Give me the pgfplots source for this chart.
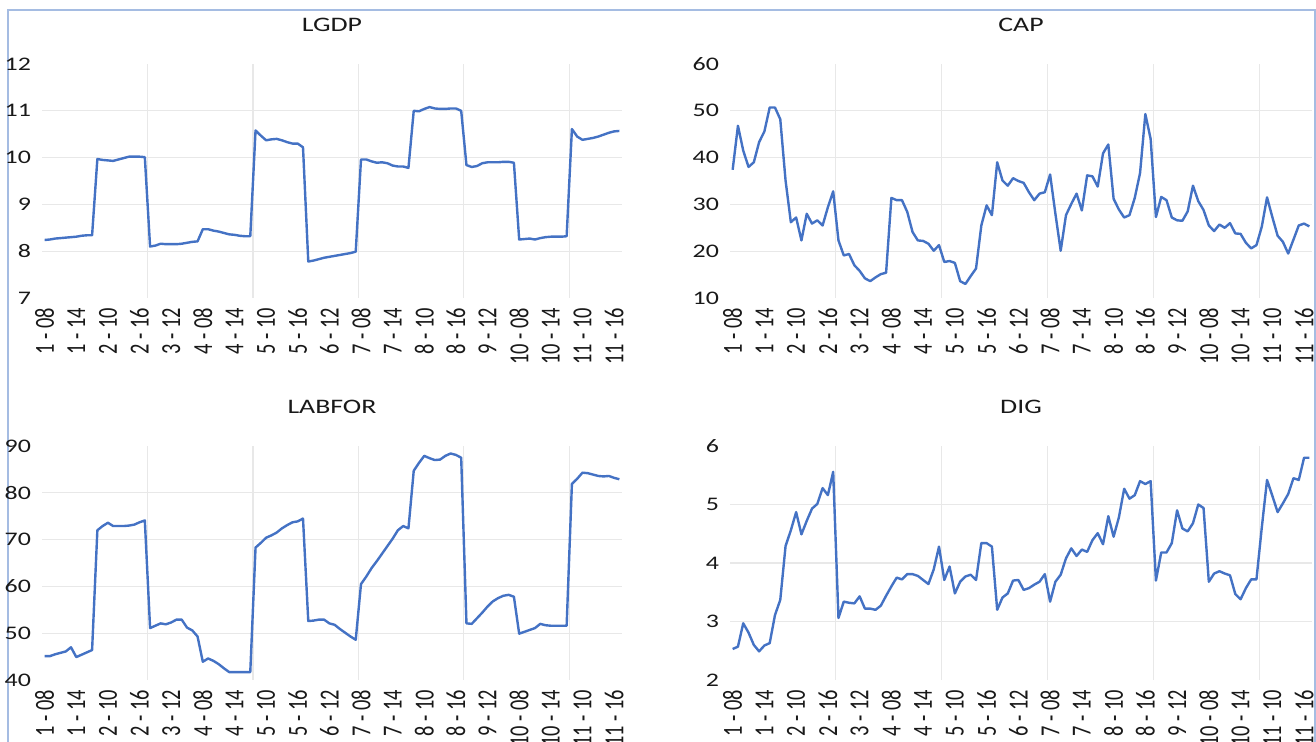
\documentclass[border=0pt]{standalone}
\usepackage{fontspec}
\setmainfont{Carlito}[FakeStretch=1.35]
\newfontfamily\rotfont{Carlito}
\usepackage{graphicx}
\usepackage{pgfplots}
\usepackage{pgfplotstable}
\pgfplotsset{compat=1.18}
\definecolor{exblue}{RGB}{68,114,196}
\definecolor{gridc}{RGB}{232,232,232}
\definecolor{framec}{RGB}{165,188,226}
\definecolor{txt}{RGB}{25,25,25}
\newcommand\R[1]{\scalebox{1}[1.35]{\rotfont #1}}

\pgfplotstableread{
i lgdp cap labfor dig
0 8.24 37.4 45.1 2.53
1 8.25 46.8 45.1 2.57
2 8.27 41.5 45.5 2.97
3 8.28 38.0 45.8 2.81
4 8.29 39.0 46.1 2.60
5 8.30 43.3 47.0 2.49
6 8.31 45.6 44.9 2.59
7 8.33 50.7 45.4 2.63
8 8.34 50.7 45.9 3.11
9 8.34 48.2 46.4 3.37
10 9.97 35.1 72.0 4.29
11 9.95 26.2 72.9 4.56
12 9.94 27.2 73.6 4.87
13 9.93 22.3 72.9 4.49
14 9.96 28.0 72.9 4.72
15 9.99 25.9 72.9 4.93
16 10.02 26.6 73.0 5.01
17 10.02 25.5 73.2 5.28
18 10.02 29.4 73.7 5.16
19 10.01 32.8 74.1 5.56
20 8.10 22.3 51.1 3.06
21 8.12 19.1 51.6 3.34
22 8.16 19.4 52.1 3.32
23 8.15 17.0 51.9 3.31
24 8.15 15.8 52.3 3.43
25 8.15 14.2 52.9 3.22
26 8.16 13.6 52.9 3.22
27 8.18 14.4 51.2 3.20
28 8.20 15.1 50.6 3.27
29 8.21 15.4 49.3 3.44
30 8.47 31.4 43.9 3.60
31 8.47 30.9 44.6 3.75
32 8.44 30.9 44.1 3.72
33 8.42 28.4 43.4 3.81
34 8.39 24.1 42.5 3.81
35 8.36 22.3 41.7 3.78
36 8.35 22.2 41.7 3.71
37 8.33 21.6 41.7 3.64
38 8.32 20.1 41.7 3.89
39 8.32 21.3 41.7 4.28
40 10.58 17.7 68.3 3.71
41 10.47 17.9 69.3 3.94
42 10.37 17.5 70.4 3.48
43 10.39 13.6 70.9 3.68
44 10.40 13.0 71.5 3.77
45 10.37 14.7 72.4 3.80
46 10.33 16.3 73.1 3.71
47 10.30 25.5 73.7 4.34
48 10.30 29.8 73.9 4.34
49 10.22 27.7 74.5 4.28
50 7.78 39.0 52.6 3.20
51 7.80 35.1 52.7 3.41
52 7.83 34.0 52.9 3.48
53 7.86 35.6 52.9 3.70
54 7.88 35.0 52.1 3.71
55 7.90 34.6 51.8 3.54
56 7.92 32.6 50.9 3.57
57 7.94 30.9 50.1 3.63
58 7.96 32.3 49.3 3.68
59 7.99 32.6 48.6 3.81
60 9.96 36.4 60.5 3.34
61 9.96 28.0 62.1 3.68
62 9.92 20.1 63.9 3.80
63 9.89 27.7 65.4 4.08
64 9.90 30.1 67.0 4.25
65 9.88 32.3 68.6 4.12
66 9.83 28.7 70.2 4.23
67 9.81 36.2 72.0 4.19
68 9.81 36.0 72.9 4.39
69 9.78 33.8 72.4 4.51
70 11.00 40.9 84.7 4.32
71 10.99 42.8 86.4 4.80
72 11.04 31.2 87.9 4.45
73 11.08 28.9 87.4 4.78
74 11.05 27.2 87.0 5.27
75 11.04 27.7 87.1 5.10
76 11.04 31.4 87.9 5.16
77 11.05 36.7 88.4 5.40
78 11.05 49.3 88.1 5.35
79 11.00 44.0 87.5 5.40
80 9.84 27.3 52.1 3.70
81 9.80 31.6 52.0 4.18
82 9.82 30.9 53.2 4.18
83 9.88 27.2 54.4 4.34
84 9.90 26.6 55.7 4.90
85 9.90 26.5 56.8 4.59
86 9.90 28.5 57.5 4.54
87 9.91 34.0 58.0 4.68
88 9.91 30.7 58.2 5.00
89 9.89 28.8 57.8 4.94
90 8.25 25.5 49.9 3.68
91 8.26 24.3 50.3 3.82
92 8.27 25.7 50.7 3.86
93 8.25 25.0 51.1 3.82
94 8.28 26.0 52.0 3.79
95 8.30 23.8 51.7 3.47
96 8.31 23.7 51.6 3.38
97 8.31 21.8 51.6 3.57
98 8.31 20.6 51.6 3.72
99 8.32 21.3 51.6 3.72
100 10.61 25.2 81.9 4.60
101 10.45 31.5 83.0 5.42
102 10.38 27.3 84.3 5.15
103 10.40 23.3 84.2 4.87
104 10.42 22.0 83.9 5.02
105 10.45 19.5 83.6 5.18
106 10.49 22.5 83.5 5.45
107 10.53 25.5 83.6 5.42
108 10.56 25.9 83.2 5.80
109 10.57 25.3 82.9 5.80
}\data

\pgfplotsset{
  panel/.style={
    scale only axis,
    height=117pt,
    xmin=-0.5, xmax=109.5,
    axis line style={draw=none},
    major tick length=0pt, minor tick length=0pt,
    xtick={0,6,...,108},
    xticklabels={\R{1 - 08},\R{1 - 14},\R{2 - 10},\R{2 - 16},\R{3 - 12},\R{4 - 08},\R{4 - 14},\R{5 - 10},\R{5 - 16},\R{6 - 12},\R{7 - 08},\R{7 - 14},\R{8 - 10},\R{8 - 16},\R{9 - 12},\R{10 - 08},\R{10 - 14},\R{11 - 10},\R{11 - 16}},
    minor xtick={19.5,39.5,59.5,79.5,99.5},
    xminorgrids, yminorgrids,
    minor grid style={gridc, line width=0.6pt},
    x tick label style={rotate=90, anchor=east, font=\fontsize{10.2}{11}\selectfont, text=txt},
    y tick label style={font=\fontsize{9.6}{10}\selectfont, text=txt},
    xticklabel shift=1.5pt, yticklabel shift=2pt,
    /pgf/number format/assume math mode=true,
    title style={at={(0.5,1)}, anchor=center, yshift=13.5pt, font=\fontsize{10.3}{12}\selectfont, text=txt},
  },
  ln/.style={exblue, line width=1.2pt, no markers, line join=round},
}

\begin{document}
\begin{tikzpicture}
\path[use as bounding box] (0,0) rectangle (658pt,370.5pt);
\clip (0,0) rectangle (658pt,370.5pt);
\draw[framec, line width=0.9pt] (4pt,-2pt) -- (4pt,365.5pt) -- (657.5pt,365.5pt) -- (657.5pt,-2pt);

\begin{axis}[panel, width=290pt, at={(21pt,221.5pt)}, anchor=south west,
  title={LGDP}, ymin=7, ymax=12, ytick={7,8,...,12}, minor ytick={8,9,10,11}]
\addplot[ln] table[x=i, y=lgdp] {\data};
\end{axis}

\begin{axis}[panel, width=291pt, at={(365pt,221.5pt)}, anchor=south west,
  title={CAP}, ymin=10, ymax=60, ytick={10,20,...,60}, minor ytick={20,30,40,50}]
\addplot[ln] table[x=i, y=cap] {\data};
\end{axis}

\begin{axis}[panel, width=290pt, at={(21pt,30.5pt)}, anchor=south west,
  title={LABFOR}, ymin=40, ymax=90, ytick={40,50,...,90}, minor ytick={50,60,70,80}]
\addplot[ln] table[x=i, y=labfor] {\data};
\end{axis}

\begin{axis}[panel, width=291pt, at={(365pt,30.5pt)}, anchor=south west,
  title={DIG}, ymin=2, ymax=6, ytick={2,3,...,6}, minor ytick={3,4,5}]
\addplot[ln] table[x=i, y=dig] {\data};
\end{axis}
\end{tikzpicture}
\end{document}
